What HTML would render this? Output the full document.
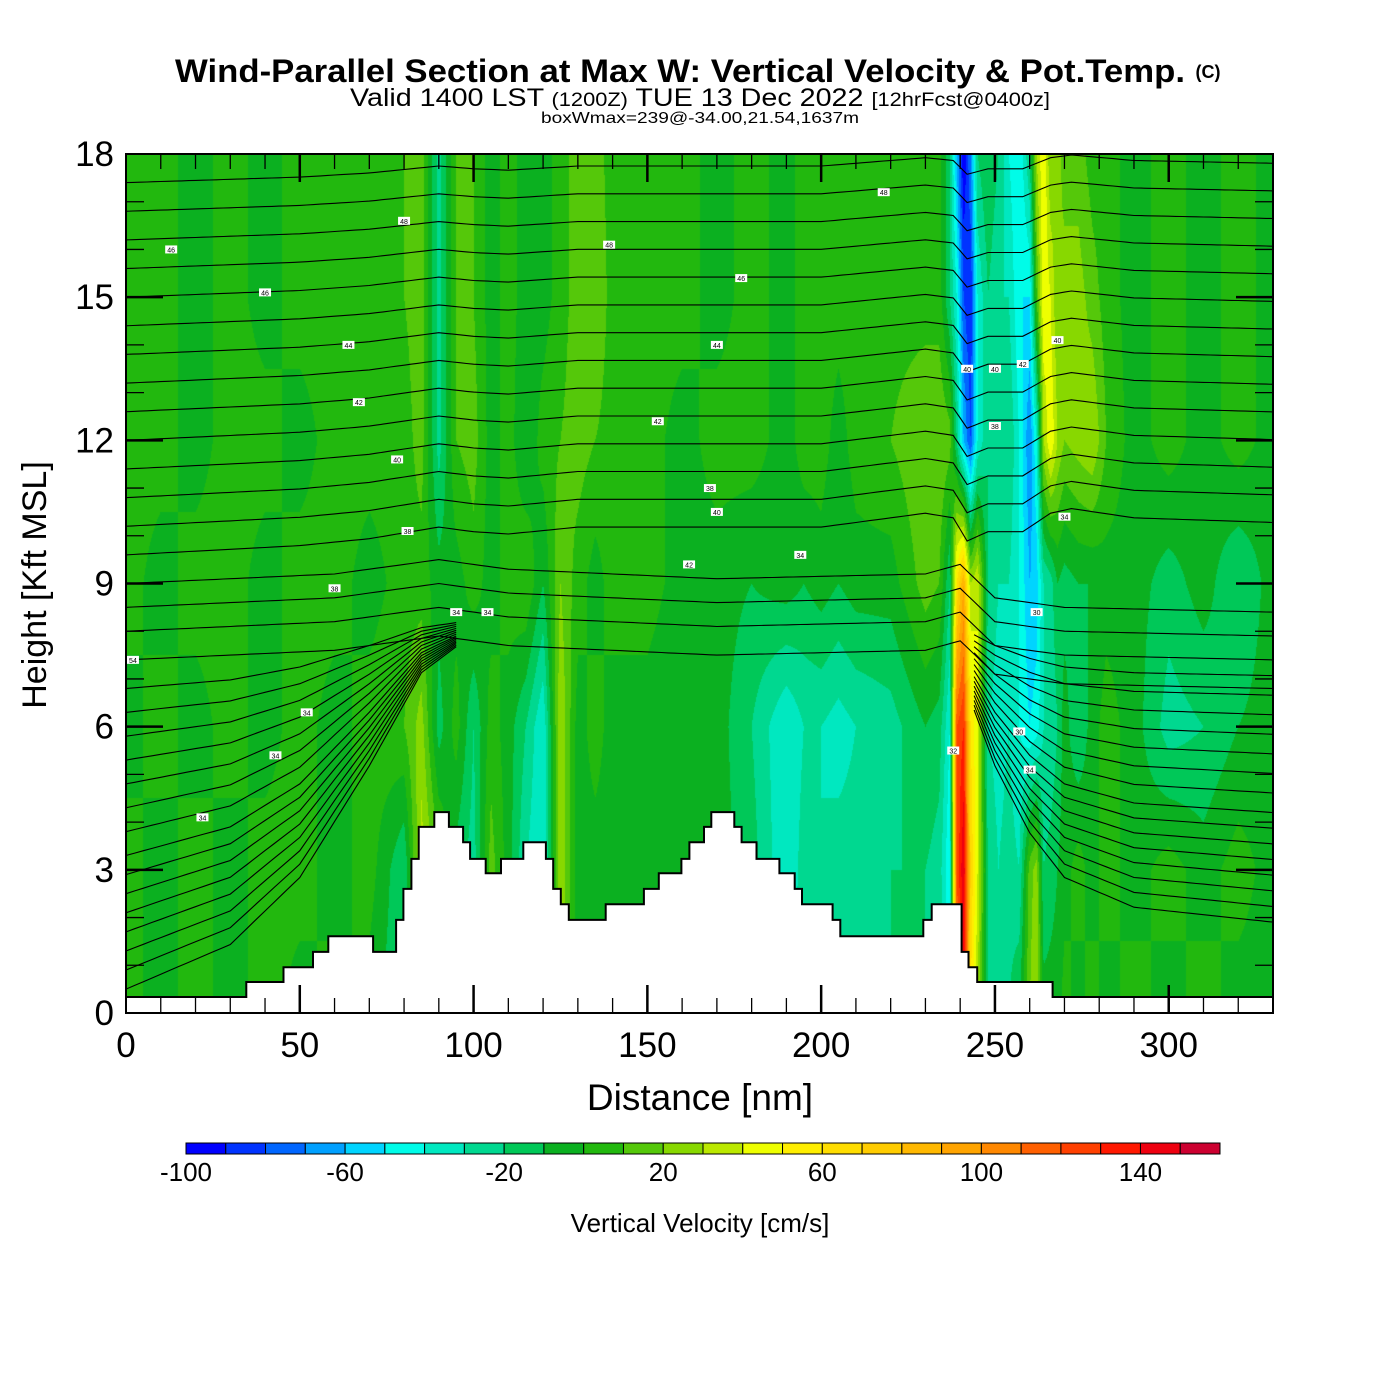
<!DOCTYPE html>
<html><head><meta charset="utf-8">
<style>
html,body{margin:0;padding:0;background:#fff;}
#wrap{position:relative;width:1400px;height:1400px;overflow:hidden;background:#fff;}
#field{position:absolute;left:126px;top:154px;}
#ov{position:absolute;left:0;top:0;}
text{font-family:"Liberation Sans",Arial,sans-serif;}
</style></head>
<body>
<div id="wrap">
<canvas id="field" width="1147" height="859"></canvas>
<svg id="ov" width="1400" height="1400" xmlns="http://www.w3.org/2000/svg">
  <g id="contours"></g>
  <g id="labels"></g>
  <path id="terrain" fill="#fff" stroke="#000" stroke-width="2"/>
  <rect x="126" y="154" width="1147" height="859" fill="none" stroke="#000" stroke-width="2"/>
  <g id="ticks"></g>
  <g id="xlab"></g>
  <g id="ylab"></g>
  <text x="680" y="82" text-anchor="middle" font-size="32" font-weight="bold" textLength="1010" lengthAdjust="spacingAndGlyphs">Wind-Parallel Section at Max W: Vertical Velocity &amp; Pot.Temp.</text>
  <text x="1208" y="78" text-anchor="middle" font-size="18" font-weight="bold">(C)</text>
  <text x="700" y="106" text-anchor="middle" font-size="25" textLength="700" lengthAdjust="spacingAndGlyphs">Valid 1400 LST <tspan font-size="19">(1200Z)</tspan> TUE 13 Dec 2022 <tspan font-size="19">[12hrFcst@0400z]</tspan></text>
  <text x="700" y="123" text-anchor="middle" font-size="16" textLength="318" lengthAdjust="spacingAndGlyphs">boxWmax=239@-34.00,21.54,1637m</text>
  <text x="700" y="1110" text-anchor="middle" font-size="37">Distance [nm]</text>
  <text transform="translate(46,585) rotate(-90)" text-anchor="middle" font-size="34">Height [Kft MSL]</text>
  <g id="cbar"></g>
  <g id="cblab"></g>
  <text x="700" y="1232" text-anchor="middle" font-size="26">Vertical Velocity [cm/s]</text>
</svg>
</div>
<script>
// ---- data ----
const xNodes=[0,10,20,30,40,50,60,70,80,85,90,95,100,105,110,115,120,125,130,135,140,150,160,170,180,190,195,200,205,210,220,230,234,237,239,241,243,245,248,251,254,257,260,262,264,266,268,270,274,278,282,290,300,310,320,330];
const levelHeights=[0,3,6,9,12,15,18];
const w0=[5,-5,5,-5,5,-5,5,-5,-20,30,0,-5,-20,10,-5,-30,-25,20,-5,-5,-5,-5,-5,-5,-5,-30,-25,-25,-20,-20,-20,-20,-20,-40,100,140,60,30,-20,-30,-20,-10,20,30,-5,-5,-5,5,-5,5,-5,5,-5,5,-5,-5];
const w3=[5,-5,5,-5,5,5,-5,5,-20,35,15,-15,-25,15,-5,-30,-40,30,-5,-5,-5,-5,-10,-5,-15,-40,-25,-30,-25,-25,-20,-20,-25,-50,120,150,70,40,-20,-30,-25,-30,15,25,-20,-15,-10,-5,5,-5,5,-5,5,-5,5,-5];
const w6=[-5,5,-5,5,-5,5,-5,5,10,25,-15,5,-20,5,-5,-20,-40,30,-5,5,-5,-5,-10,-5,-20,-40,-30,-30,-35,-30,-25,-10,-15,-40,120,130,60,40,-30,-35,-30,-40,-50,-45,-30,-30,-20,-5,-20,-5,5,-5,-25,-20,-10,-5];
const w9=[5,-5,5,5,-5,5,5,-5,5,5,-5,-5,5,-5,5,10,-10,20,5,-5,5,5,-5,-5,-10,-5,-10,-5,-10,-5,-5,15,10,-20,60,90,30,40,-20,-30,-30,-40,-60,-55,-30,-25,-10,-15,-10,-10,-5,-5,-15,-5,-20,-5];
const w12=[5,5,-5,5,5,-5,5,5,5,15,-25,10,15,-5,5,-10,5,10,15,10,5,5,-5,5,5,-5,5,5,-5,5,10,20,20,15,-20,-60,-80,-40,-20,-20,-20,-40,-70,-40,30,50,30,20,25,30,10,-5,5,-5,5,-5];
const w15=[5,5,-5,5,-5,5,5,5,10,15,-25,10,10,-5,5,-5,-5,5,15,20,5,5,5,-5,5,-5,5,5,5,5,5,5,5,-20,-40,-80,-90,-40,-20,-30,-30,-50,-50,10,50,40,20,30,25,15,5,-5,5,-5,5,-5];
const w18=[5,5,-5,5,-5,5,5,5,10,15,-25,10,10,-5,5,-5,-5,5,15,15,5,5,5,-5,5,-5,5,5,5,5,5,5,5,-20,-60,-100,-70,-20,-10,-20,-40,-50,-20,30,50,20,30,10,15,5,5,-5,5,-5,5,-5];
const wRows=[w0,w3,w6,w9,w12,w15,w18];
const colorLevels=[-100,-90,-80,-70,-60,-50,-40,-30,-20,-10,0,10,20,30,40,50,60,70,80,90,100,110,120,130,140,150];
const colorTable=["#0000ff","#0033ff","#0066ff","#00a0ff","#00d4ff","#00fce8","#00e8c0","#00d890","#00c858","#0bb020","#22b80e","#55c80a","#88d800","#bbe800","#eeff00","#ffee00","#ffdd00","#ffcc00","#ffb800","#ffa400","#ff8800","#ff6000","#ff4000","#ff1800","#ee0010","#cc0030"];
const cbLabels=[-100,-60,-20,20,60,100,140];
const terrainEdges=[0,34.6,45.3,53.8,58.2,71.1,77.7,79.8,82.1,84.2,88.7,92.9,97.0,99.0,103.5,107.9,114.3,120.8,122.9,125.1,127.4,138.0,149.0,153.3,159.8,162.1,166.3,168.4,175.0,177.1,181.4,188.0,192.4,194.5,203.3,205.5,229.4,231.8,240.4,242.4,244.9,266.6,330];
const terrainZ=[0.335,0.65,0.96,1.28,1.61,1.28,1.95,2.6,3.23,3.9,4.21,3.9,3.58,3.23,2.93,3.23,3.58,3.23,2.6,2.28,1.95,2.28,2.6,2.93,3.23,3.58,3.9,4.21,3.9,3.58,3.23,2.93,2.6,2.28,1.95,1.61,1.95,2.28,1.28,0.96,0.65,0.335];
const thetaBase=[0.5,0.9,1.3,1.7,2.1,2.5,2.9,3.3,3.8,4.3,4.8,5.3,5.8,6.3,6.8,7.4,8.0,8.5,9.0,9.6,10.2,10.8,11.4,12.0,12.6,13.2,13.8,14.4,15.0,15.6,16.2,16.8,17.4];
// left low-level compression toward the 8.3 kft cluster
const leftX=[0,30,50,70,85,95];
const leftComp=[0,0.12,0.3,0.6,0.85,0.92];
// right low-level compression (lee side)
const rightX=[244,250,260,270,290,330];
const rightComp=[0.75,0.6,0.42,0.3,0.22,0.18];
// mid-level lines (7-9 kft) through the middle
const midX=[0,60,90,110,170,230,240,250,270,330];
const midLift=[0,0.2,0.5,0.3,0.1,0.2,0.4,-0.3,-0.5,-0.6];
const dispX=[0,50,70,90,100,110,130,170,200,230,238,242,248,258,266,272,290,330];
const liftHigh=[0,0.2,0.35,0.6,0.5,0.45,0.6,0.6,0.6,0.9,0.8,0.3,0.5,0.5,0.9,1.0,0.8,0.7];
const labelPts=[[13,16],[40,15.1],[64,14],[67,12.8],[78,11.6],[81,10.1],[60,8.9],[95,8.4],[104,8.4],[52,6.3],[43,5.4],[22,4.1],[2,7.4],[80,16.6],[139,16.1],[177,15.4],[170,14],[153,12.4],[168,11],[170,10.5],[194,9.6],[162,9.4],[218,17.2],[242,13.5],[250,13.5],[258,13.6],[268,14.1],[250,12.3],[270,10.4],[262,8.4],[257,5.9],[260,5.1],[238,5.5]];
const labelText=["46","46","44","42","40","38","38","34","34","34","34","34","54","48","48","46","44","42","38","40","34","42","48","40","40","42","40","38","34","30","30","34","32"];

// ---- scales ----
const PX=126,PY=154,PW=1147,PH=859,XMAX=330,ZMAX=18;
const X=v=>PX+v*PW/XMAX;
const Y=v=>PY+PH-v*PH/ZMAX;
const NS='http://www.w3.org/2000/svg';
function interp(xs,ys,x){
  if(x<=xs[0])return ys[0];
  for(let i=1;i<xs.length;i++){if(x<=xs[i]){const t=(x-xs[i-1])/(xs[i]-xs[i-1]);return ys[i-1]+t*(ys[i]-ys[i-1]);}}
  return ys[ys.length-1];
}
function hex(c){return [parseInt(c.substr(1,2),16),parseInt(c.substr(3,2),16),parseInt(c.substr(5,2),16)];}
const rgbTable=colorTable.map(hex);

// ---- field ----
(function(){
  const cv=document.getElementById('field');const ctx=cv.getContext('2d');
  const img=ctx.createImageData(PW,PH);const d=img.data;
  const colVals=[];
  for(let px=0;px<PW;px++){
    const x=(px+0.5)*XMAX/PW;
    colVals.push(wRows.map(r=>interp(xNodes,r,x)));
  }
  for(let py=0;py<PH;py++){
    const z=ZMAX-(py+0.5)*ZMAX/PH;
    let j=Math.min(5,Math.floor(z/3));const t=(z-levelHeights[j])/3;
    for(let px=0;px<PW;px++){
      const cvs=colVals[px];const v=cvs[j]+t*(cvs[j+1]-cvs[j]);
      let k=0;for(let i=0;i<colorLevels.length;i++){if(v>=colorLevels[i])k=i;else break;}
      const c=rgbTable[k];const o=(py*PW+px)*4;
      d[o]=c[0];d[o+1]=c[1];d[o+2]=c[2];d[o+3]=255;
    }
  }
  ctx.putImageData(img,0,0);
})();

// ---- contours ----
const cg=document.getElementById('contours');
function addLine(pts){
  const pl=document.createElementNS(NS,'polyline');
  pl.setAttribute('points',pts.join(' '));
  pl.setAttribute('fill','none');pl.setAttribute('stroke','#000');pl.setAttribute('stroke-width','1.1');
  
  
  cg.appendChild(pl);
}
const P=(x,h)=>X(x).toFixed(1)+','+Y(Math.min(h,18)).toFixed(1);
thetaBase.forEach((b)=>{
  if(b<7){
    let pts=[];
    for(let x=0;x<=95;x+=2.5){const f=interp(leftX,leftComp,x);pts.push(P(x,b+(8.3-b)*f));}
    addLine(pts);
    pts=[];
    for(let x=244;x<=330;x+=2){const f=interp(rightX,rightComp,x);pts.push(P(x,b+(8.3-b)*f));}
    addLine(pts);
  } else if(b<9.5){
    let pts=[];
    for(let x=0;x<=330;x+=2){pts.push(P(x,b+interp(midX,midLift,x)));}
    addLine(pts);
  } else {
    let pts=[];
    for(let x=0;x<=330;x+=2){pts.push(P(x,b+interp(dispX,liftHigh,x)*(1-(b-9)/20)));}
    addLine(pts);
  }
});
const lg=document.getElementById('labels');
labelPts.forEach((p,i)=>{
  const r=document.createElementNS(NS,'rect');
  r.setAttribute('x',X(p[0])-6);r.setAttribute('y',Y(p[1])-4);r.setAttribute('width',12);r.setAttribute('height',8);r.setAttribute('fill','#fff');
  
  
  lg.appendChild(r);
  const t=document.createElementNS(NS,'text');
  t.setAttribute('x',X(p[0]));t.setAttribute('y',Y(p[1])+3);t.setAttribute('font-size','7');t.setAttribute('text-anchor','middle');
  t.textContent=labelText[i];
  
  
  lg.appendChild(t);
});

// ---- terrain ----
(function(){
  let d='M'+X(0)+','+Y(0);
  for(let i=0;i<terrainZ.length;i++){
    d+=' L'+X(terrainEdges[i]).toFixed(1)+','+Y(terrainZ[i]).toFixed(1)+' L'+X(terrainEdges[i+1]).toFixed(1)+','+Y(terrainZ[i]).toFixed(1);
  }
  d+=' L'+X(XMAX)+','+Y(0)+' Z';
  document.getElementById('terrain').setAttribute('d',d);
})();

// ---- ticks ----
const tg=document.getElementById('ticks');
function line(x1,y1,x2,y2,w){const l=document.createElementNS(NS,'line');l.setAttribute('x1',x1);l.setAttribute('y1',y1);l.setAttribute('x2',x2);l.setAttribute('y2',y2);l.setAttribute('stroke','#000');l.setAttribute('stroke-width',w);
  
  
  tg.appendChild(l);}
for(let v=10;v<XMAX;v+=10){const maj=v%50===0;const L=maj?28:15;line(X(v),PY+PH,X(v),PY+PH-L,maj?2.5:1.3);line(X(v),PY,X(v),PY+L,maj?2.5:1.3);}
for(let v=1;v<ZMAX;v++){const maj=v%3===0;const L=maj?37:18;line(PX,Y(v),PX+L,Y(v),maj?2.5:1.3);line(PX+PW,Y(v),PX+PW-L,Y(v),maj?2.5:1.3);}
const xl=document.getElementById('xlab');
for(let v=0;v<=300;v+=50){const t=document.createElementNS(NS,'text');t.setAttribute('x',X(v));t.setAttribute('y',1057);t.setAttribute('text-anchor','middle');t.setAttribute('font-size','35');t.textContent=v;
  
  
  xl.appendChild(t);}
const yl=document.getElementById('ylab');
for(let v=0;v<=18;v+=3){const t=document.createElementNS(NS,'text');t.setAttribute('x',114);t.setAttribute('y',Y(v)+12);t.setAttribute('text-anchor','end');t.setAttribute('font-size','35');t.textContent=v;
  
  
  yl.appendChild(t);}

// ---- colorbar ----
const cb=document.getElementById('cbar');const cbX=v=>186+(v+100)*(1034/260);
colorLevels.forEach((lv,i)=>{const r=document.createElementNS(NS,'rect');r.setAttribute('x',cbX(lv));r.setAttribute('y',1143);r.setAttribute('width',1034/26);r.setAttribute('height',11);r.setAttribute('fill',colorTable[i]);r.setAttribute('stroke','#000');r.setAttribute('stroke-width','1');
  
  
  cb.appendChild(r);});
const cl=document.getElementById('cblab');
cbLabels.forEach(v=>{const t=document.createElementNS(NS,'text');t.setAttribute('x',cbX(v));t.setAttribute('y',1181);t.setAttribute('text-anchor','middle');t.setAttribute('font-size','26');t.textContent=v;
  
  
  cl.appendChild(t);});
</script>
</body></html>
